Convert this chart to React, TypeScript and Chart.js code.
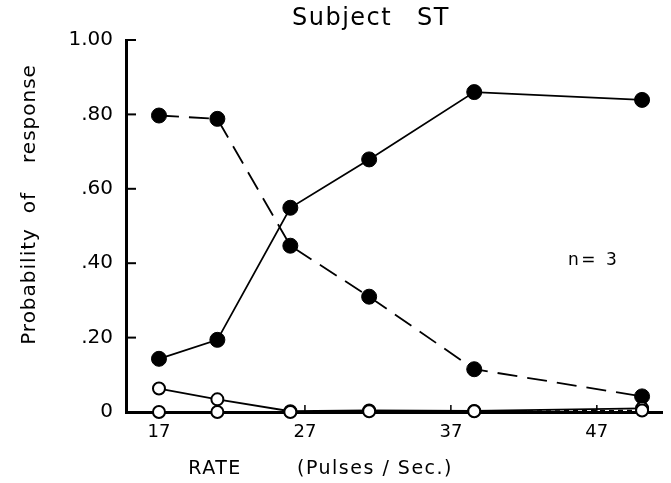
import React, { useEffect, useRef } from "react";
import { Chart, registerables } from "chart.js";

Chart.register(...registerables);

// ---- data ----
const rates = [17, 21, 26, 31.4, 38.6, 50.1];
const solidFilled = [0.143, 0.194, 0.549, 0.679, 0.86, 0.839];
const dashedFilled = [0.797, 0.788, 0.447, 0.31, 0.115, 0.042];
const solidOpen = [0.063, 0.034, 0.002, 0.004, 0.003, 0.01];
const dottedOpen = [0, 0, 0, 0.002, 0.002, 0.004];

const xTickValues = [17, 27, 37, 47];
const xTickLabels = ["17", "27", "37", "47"];
const yTickValues = [0, 0.2, 0.4, 0.6, 0.8, 1.0];
const yTickLabels = ["0", ".20", ".40", ".60", ".80", "1.00"];

const titleWords = ["Subject", "ST"];
const xTitleLeft = "RATE";
const xTitleRight = "(Pulses / Sec.)";
const yTitleWords = ["Probability", "of", "response"];
const noteText = "n= 3";

const FONT = "'DejaVu Sans', sans-serif";

function toPoints(ys: number[]) {
  return rates.map((x, i) => ({ x, y: ys[i] }));
}

const decorPlugin = {
  id: "decor",
  afterDraw(chart: any) {
    const ctx = chart.ctx as CanvasRenderingContext2D;
    const xs = chart.scales.x;
    const ys = chart.scales.y;
    const area = chart.chartArea;
    ctx.save();
    ctx.strokeStyle = "#000";
    ctx.fillStyle = "#000";
    // inward y ticks
    ctx.lineWidth = 2;
    yTickValues.forEach((v) => {
      const py = ys.getPixelForValue(v);
      ctx.beginPath();
      ctx.moveTo(area.left, py);
      ctx.lineTo(area.left + 10, py);
      ctx.stroke();
    });
    // small inward x ticks
    ctx.lineWidth = 1.5;
    xTickValues.slice(1).forEach((v) => {
      const px = xs.getPixelForValue(v);
      ctx.beginPath();
      ctx.moveTo(px, area.bottom);
      ctx.lineTo(px, area.bottom - 7);
      ctx.stroke();
    });
    // texts
    const c: any = ctx;
    ctx.textBaseline = "middle";
    c.letterSpacing = "1.5px";
    ctx.font = `24px ${FONT}`;
    ctx.textAlign = "left";
    ctx.fillText(titleWords[0], 292, 19);
    ctx.fillText(titleWords[1], 417, 19);

    c.letterSpacing = "1.5px";
    ctx.font = `19px ${FONT}`;
    ctx.textAlign = "center";
    ctx.fillText(xTitleLeft, 215, 469);
    ctx.textAlign = "left";
    ctx.fillText(xTitleRight, 297, 469);

    c.letterSpacing = "2.5px";
    ctx.font = `17px ${FONT}`;
    ctx.textAlign = "left";
    ctx.fillText(noteText, 568, 261);

    c.letterSpacing = "1px";
    ctx.font = `20px ${FONT}`;
    ctx.textBaseline = "alphabetic";
    ctx.textAlign = "center";
    const centers = [286.5, 202.5, 113.5];
    yTitleWords.forEach((w, i) => {
      ctx.save();
      ctx.translate(35, centers[i]);
      ctx.rotate(-Math.PI / 2);
      ctx.fillText(w, 0, 0);
      ctx.restore();
    });
    ctx.restore();
  },
};

export default function App() {
  const ref = useRef<HTMLCanvasElement | null>(null);

  useEffect(() => {
    if (!ref.current) return;
    const chart = new Chart(ref.current, {
      type: "line",
      data: {
        datasets: [
          {
            data: toPoints(dottedOpen),
            borderColor: "#000",
            borderWidth: 1.5,
            borderDash: [5, 4],
            pointRadius: 6,
            pointBackgroundColor: "#fff",
            pointBorderColor: "#000",
            pointBorderWidth: 2,
            tension: 0,
            fill: false,
            clip: false as any,
          },
          {
            data: toPoints(solidOpen),
            borderColor: "#000",
            borderWidth: 1.8,
            pointRadius: 6,
            pointBackgroundColor: "#fff",
            pointBorderColor: "#000",
            pointBorderWidth: 2,
            tension: 0,
            fill: false,
            clip: false as any,
          },
          {
            data: toPoints(dashedFilled),
            borderColor: "#000",
            borderWidth: 1.8,
            borderDash: [20, 10],
            pointRadius: 7.5,
            pointBackgroundColor: "#000",
            pointBorderColor: "#000",
            pointBorderWidth: 1,
            tension: 0,
            fill: false,
            clip: false as any,
          },
          {
            data: toPoints(solidFilled),
            borderColor: "#000",
            borderWidth: 1.8,
            pointRadius: 7.5,
            pointBackgroundColor: "#000",
            pointBorderColor: "#000",
            pointBorderWidth: 1,
            tension: 0,
            fill: false,
            clip: false as any,
          },
        ],
      },
      options: {
        animation: false,
        responsive: false,
        maintainAspectRatio: false,
        layout: { padding: { top: 40, right: 0, left: 0, bottom: 0 } },
        plugins: {
          legend: { display: false },
          title: { display: false },
          tooltip: { enabled: false },
        },
        scales: {
          x: {
            type: "linear",
            min: 14.74,
            max: 51.5,
            afterBuildTicks: (s: any) => {
              s.ticks = xTickValues.map((v) => ({ value: v }));
            },
            afterFit: (s: any) => {
              s.height = 71;
            },
            ticks: {
              autoSkip: false,
              maxRotation: 0,
              padding: 10,
              color: "#000",
              font: { family: FONT, size: 18 },
              callback: (v: any) => {
                const i = xTickValues.indexOf(Number(v));
                return i >= 0 ? xTickLabels[i] : "";
              },
            },
            grid: { display: false, drawTicks: false },
            border: { display: true, width: 3, color: "#000" },
          },
          y: {
            type: "linear",
            min: 0,
            max: 1,
            afterBuildTicks: (s: any) => {
              s.ticks = yTickValues.map((v) => ({ value: v }));
            },
            afterFit: (s: any) => {
              s.width = 126;
            },
            ticks: {
              autoSkip: false,
              padding: 13,
              color: "#000",
              font: { family: FONT, size: 20 },
              callback: (v: any) => {
                const i = yTickValues.findIndex((t) => Math.abs(t - Number(v)) < 1e-6);
                return i >= 0 ? yTickLabels[i] : "";
              },
            },
            grid: { display: false, drawTicks: false },
            border: { display: true, width: 3, color: "#000" },
          },
        },
      },
      plugins: [decorPlugin],
    });
    return () => chart.destroy();
  }, []);

  return (
    <div style={{ position: "absolute", left: 0, top: 0, width: 671, height: 483, background: "#fff" }}>
      <canvas ref={ref} width={671} height={483} style={{ display: "block" }} />
    </div>
  );
}
